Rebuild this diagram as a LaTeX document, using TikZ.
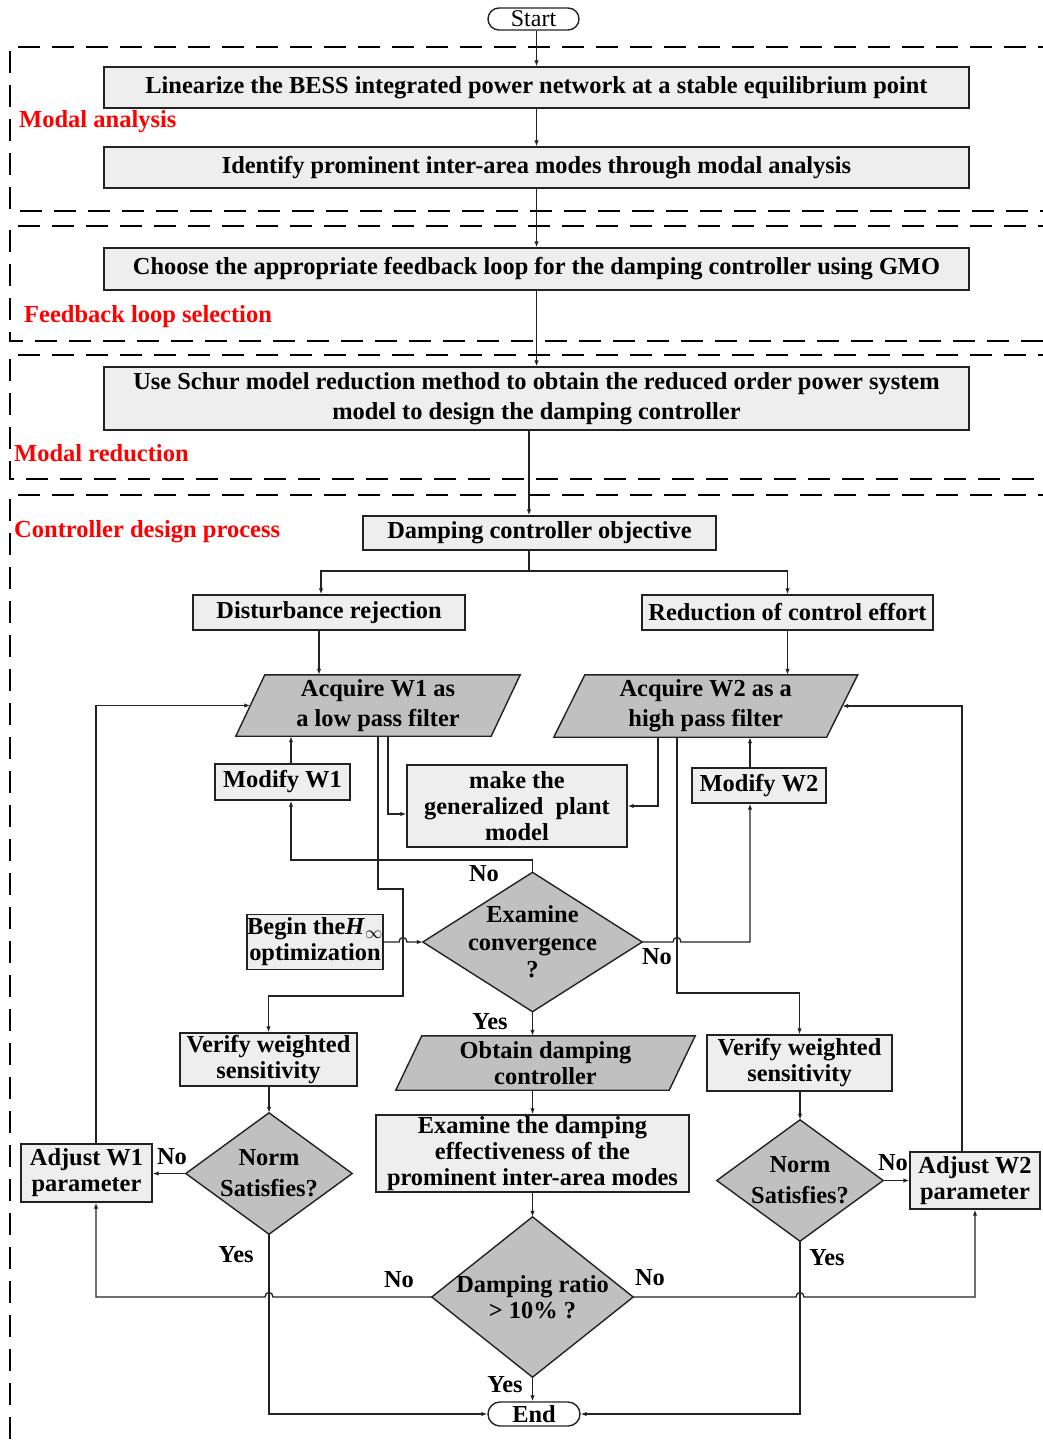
\documentclass[tikz,border=0pt]{standalone}
\usepackage{fontspec}
\setmainfont{Liberation Serif}
\usetikzlibrary{arrows.meta,backgrounds}
\definecolor{lt}{HTML}{EEEEEE}
\definecolor{dk}{HTML}{C0C0C0}
\definecolor{ln}{HTML}{222222}
\definecolor{lblred}{HTML}{FF0000}
\tikzset{
 box/.style={draw=ln, line width=1.4pt, fill=lt, inner sep=0pt, align=center, font=\fontsize{24.4}{26}\selectfont\bfseries},
 ghost/.style={inner sep=0pt, align=center, font=\fontsize{24.4}{26}\selectfont\bfseries},
 shp/.style={draw=ln, line width=1.4pt, fill=dk},
 conn/.style={draw=ln, line width=1.3pt},
 arr/.style={conn, -{Latex[length=6pt,width=4.5pt]}},
 lbl/.style={inner sep=0pt, font=\fontsize{24.4}{26}\selectfont\bfseries},
 sect/.style={inner sep=0pt, anchor=west, text=lblred, font=\fontsize{24.5}{26}\selectfont\bfseries},
 frame/.style={draw=black, line width=2.2pt, dash pattern=on 22pt off 12pt},
 term/.style={draw=ln, line width=1.4pt, fill=white, rounded corners=11pt, inner sep=0pt}
}
\begin{document}
\begin{tikzpicture}[x=1pt,y=-1pt]
\useasboundingbox (0,0) rectangle (1043,1448);

% section frames
\draw[frame] (1060,47) -- (10,47) -- (10,211) -- (1060,211);
\draw[frame] (1060,226) -- (10,226) -- (10,341) -- (1060,341);
\draw[frame] (1060,355) -- (10,355) -- (10,479) -- (1060,479);
\draw[frame] (1060,495) -- (10,495) -- (10,1470);

\node[sect] (s1) at (19,122) {Modal analysis};
\node[sect] (s2) at (24,317) {Feedback loop selection};
\node[sect] (s3) at (14,453) {Modal reduction};
\node[sect] (s4) at (14,532) {Controller design process};

% nodes
\node[term, minimum width=91pt, minimum height=22pt, font=\fontsize{24}{26}\selectfont] (start) at (533.5,19) {Start};
\node[box, minimum width=865pt, minimum height=41pt] (lin) at (536.5,87.5) {Linearize the BESS integrated power network at a stable equilibrium point};
\node[box, minimum width=865pt, minimum height=41pt] (ident) at (536.5,167.5) {Identify prominent inter-area modes through modal analysis};
\node[box, minimum width=865pt, minimum height=42pt] (choose) at (536.5,269) {Choose the appropriate feedback loop for the damping controller using GMO};
\node[box, minimum width=865pt, minimum height=63pt, font=\fontsize{24.4}{30}\selectfont\bfseries] (schur) at (536.5,398.5) {Use Schur model reduction method to obtain the reduced order power system\\model to design the damping controller};
\node[box, minimum width=353pt, minimum height=34pt] (obj) at (539.5,533) {Damping controller objective};
\node[box, minimum width=272pt, minimum height=35pt] (dist) at (329,612.5) {Disturbance rejection};
\node[box, minimum width=291pt, minimum height=35pt] (red) at (787.5,612.5) {Reduction of control effort};
\node[ghost, minimum width=255pt, minimum height=61pt, font=\fontsize{24.4}{30}\selectfont\bfseries] (acqw1) at (378,705.5) {Acquire W1 as\\a low pass filter};
\node[ghost, minimum width=272.5pt, minimum height=62pt, font=\fontsize{24.4}{30}\selectfont\bfseries] (acqw2) at (705.75,706) {Acquire W2 as a\\high pass filter};
\node[box, minimum width=135pt, minimum height=36pt] (modw1) at (282.5,782) {Modify W1};
\node[box, minimum width=220pt, minimum height=82pt] (make) at (517,806) {make the\\generalized\ \ plant\\model};
\node[box, minimum width=134pt, minimum height=35pt] (modw2) at (759,785.5) {Modify W2};
\node[ghost, minimum width=219pt, minimum height=139pt, font=\fontsize{24.4}{27.5}\selectfont\bfseries] (exam) at (532.5,942) {Examine\\convergence\\?};
\node[box, minimum width=134pt, minimum height=55pt] (begin) at (315,942) {Begin the\textit{H}$_{\infty}$\\optimization};
\node[ghost, minimum width=273pt, minimum height=54pt] (obtain) at (545.5,1063) {Obtain damping\\controller};
\node[box, minimum width=313pt, minimum height=77pt] (examd) at (532.5,1153.5) {Examine the damping\\effectiveness of the\\prominent inter-area modes};
\node[ghost, minimum width=201pt, minimum height=160pt] (damp) at (532.5,1297) {Damping ratio\\> 10\% ?};
\node[term, minimum width=92pt, minimum height=24pt, font=\fontsize{24.4}{26}\selectfont\bfseries, rounded corners=12pt] (end) at (534,1414) {End};
\node[box, minimum width=177pt, minimum height=53pt] (verw1) at (268.5,1059.5) {Verify weighted\\sensitivity};
\node[ghost, minimum width=166pt, minimum height=121pt, font=\fontsize{24.4}{31}\selectfont\bfseries] (norm1) at (269,1173.5) {Norm\\Satisfies?};
\node[box, minimum width=131pt, minimum height=58pt] (adjw1) at (86.5,1173) {Adjust W1\\parameter};
\node[box, minimum width=185pt, minimum height=56pt] (verw2) at (799.5,1063) {Verify weighted\\sensitivity};
\node[ghost, minimum width=166pt, minimum height=121pt, font=\fontsize{24.4}{31}\selectfont\bfseries] (norm2) at (800,1180.5) {Norm\\Satisfies?};
\node[box, minimum width=130pt, minimum height=57pt] (adjw2) at (975,1180.5) {Adjust W2\\parameter};

% slanted shapes and diamonds behind their texts
\begin{scope}[on background layer]
\fill[white] (0,0) rectangle (1043,1448);
\draw[shp] ([xshift=14.5pt]acqw1.north west) -- ([xshift=14.5pt]acqw1.north east) -- ([xshift=-14.5pt]acqw1.south east) -- ([xshift=-14.5pt]acqw1.south west) -- cycle;
\draw[shp] ([xshift=15.5pt]acqw2.north west) -- ([xshift=15.5pt]acqw2.north east) -- ([xshift=-15.5pt]acqw2.south east) -- ([xshift=-15.5pt]acqw2.south west) -- cycle;
\draw[shp] ([xshift=13pt]obtain.north west) -- ([xshift=13pt]obtain.north east) -- ([xshift=-13pt]obtain.south east) -- ([xshift=-13pt]obtain.south west) -- cycle;
\draw[shp] (exam.north) -- (exam.east) -- (exam.south) -- (exam.west) -- cycle;
\draw[shp] (damp.north) -- (damp.east) -- (damp.south) -- (damp.west) -- cycle;
\draw[shp] (norm1.north) -- (norm1.east) -- (norm1.south) -- (norm1.west) -- cycle;
\draw[shp] (norm2.north) -- (norm2.east) -- (norm2.south) -- (norm2.west) -- cycle;
\end{scope}

% labels
\node[lbl] (l1) at (484,874) {No};
\node[lbl] (l2) at (657,957) {No};
\node[lbl] (l3) at (490,1022) {Yes};
\node[lbl] (l4) at (172,1157) {No};
\node[lbl] (l5) at (236,1255) {Yes};
\node[lbl] (l6) at (399,1280) {No};
\node[lbl] (l7) at (650,1278) {No};
\node[lbl] (l8) at (505,1385) {Yes};
\node[lbl] (l9) at (893,1163) {No};
\node[lbl] (l10) at (827,1258) {Yes};

% connectors
\coordinate (spl) at (529,571);
\draw[arr] (start.south -| lin.north) -- (lin.north);
\draw[arr] (lin.south) -- (ident.north);
\draw[arr] (ident.south) -- (choose.north);
\draw[arr] (choose.south) -- (schur.north);
\draw[arr] (schur.south -| spl) -- (obj.north -| spl);
\draw[conn] (obj.south -| spl) -- (spl);
\draw[arr] (spl) -| ([xshift=-8pt]dist.north);
\draw[arr] (spl) -| (red.north);
\draw[arr] ([xshift=-10pt]dist.south) -- ([xshift=-10pt]dist.south |- acqw1.north);
\draw[arr] (red.south) -- (red.south |- acqw2.north);

\draw[arr] (acqw1.south) -- (378,889) -- (403,889) -- (403,996) -| (verw1.north);
\draw[arr] ([xshift=10pt]acqw1.south) |- ([yshift=-8pt]make.west);
\draw[arr] ([xshift=-47.75pt]acqw2.south) |- (make.east);
\draw[arr] ([xshift=-28.75pt]acqw2.south) -- (677,993) -| (verw2.north);

\draw[arr] (exam.north) -- (532.5,860) -| ([xshift=8.5pt]modw1.south);
\draw[arr] ([xshift=8.5pt]modw1.north) -- ([xshift=8.5pt]modw1.north |- acqw1.south);
\draw[arr] (exam.east) -- (673,942) .. controls (673,936) and (681,936) .. (681,942) -| ([xshift=-9pt]modw2.south);
\draw[arr] ([xshift=-9pt]modw2.north) -- ([xshift=-9pt]modw2.north |- acqw2.south);
\draw[arr] (begin.east) -- (399,942) .. controls (399,936) and (407,936) .. (407,942) -- (exam.west);

\draw[arr] (exam.south) -- (exam.south |- obtain.north);
\draw[arr] (exam.south |- obtain.south) -- (exam.south |- examd.north);
\draw[arr] (examd.south) -- (damp.north);
\draw[arr] (damp.south) -- (damp.south |- end.north);

\draw[arr] (verw1.south -| norm1.north) -- (norm1.north);
\draw[arr] (norm1.west) -- (norm1.west -| adjw1.east);
\draw[arr] ([xshift=9.5pt]adjw1.north) |- (acqw1.west);
\draw[arr] (norm1.south) |- (end.west);
\draw[arr] (damp.west) -- (273,1297) .. controls (273,1291) and (265,1291) .. (265,1297) -| ([xshift=9.5pt]adjw1.south);

\draw[arr] (verw2.south -| norm2.north) -- (norm2.north);
\draw[arr] (norm2.east) -- (norm2.east -| adjw2.west);
\draw[arr] ([xshift=-13pt]adjw2.north) |- (acqw2.east);
\draw[arr] (damp.east) -- (796,1297) .. controls (796,1291) and (804,1291) .. (804,1297) -| (adjw2.south);
\draw[arr] (norm2.south) |- (end.east);
\end{tikzpicture}
\end{document}
